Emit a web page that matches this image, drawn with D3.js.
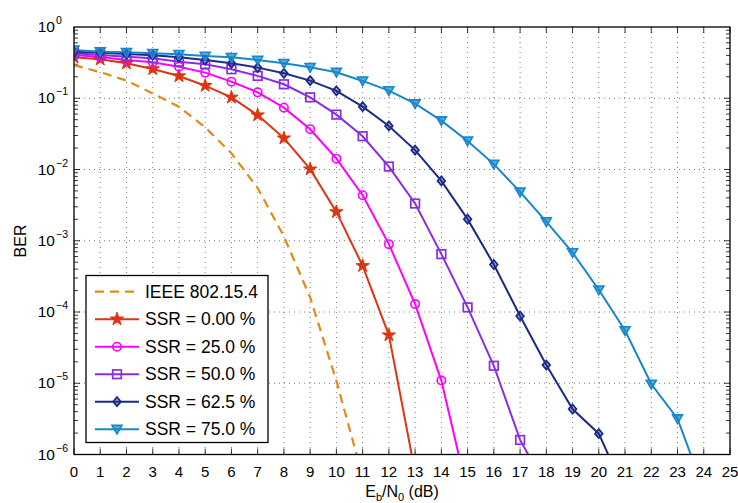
<!DOCTYPE html>
<html><head><meta charset="utf-8">
<script src="https://cdn.jsdelivr.net/npm/d3@7"></script>
<style>body{margin:0;background:#fff}svg{display:block}text{font-family:"Liberation Sans",Arial,sans-serif;fill:#000}</style>
</head><body>
<svg id="c" width="738" height="503"></svg>
<script>
const ebn0 = d3.range(0, 26);
const xTicks = d3.range(0, 26);
const yTickExps = [0, -1, -2, -3, -4, -5, -6];
const seriesNames = ["IEEE 802.15.4", "SSR = 0.00 %", "SSR = 25.0 %", "SSR = 50.0 %", "SSR = 62.5 %", "SSR = 75.0 %"];
const ieee = [0.293, 0.232, 0.177, 0.117, 0.076, 0.039, 0.0169, 0.0055, 0.00115, 1.6e-4, 1.08e-5, 4.9e-7];
const ssr000 = [0.376, 0.352, 0.31, 0.258, 0.205, 0.150, 0.103, 0.058, 0.0275, 0.0101, 0.00254, 4.45e-4, 4.74e-5, 5.6e-7];
const ssr250 = [0.405, 0.380, 0.344, 0.320, 0.277, 0.229, 0.171, 0.121, 0.0737, 0.0367, 0.0142, 0.00436, 8.96e-4, 1.29e-4, 1.09e-5, 2.9e-7];
const ssr500 = [0.428, 0.405, 0.383, 0.364, 0.326, 0.300, 0.255, 0.206, 0.157, 0.103, 0.0589, 0.0293, 0.0110, 0.00333, 6.49e-4, 1.16e-4, 1.76e-5, 1.60e-6, 3.5e-7];
const ssr625 = [0.450, 0.436, 0.418, 0.401, 0.376, 0.344, 0.310, 0.269, 0.224, 0.177, 0.127, 0.0762, 0.0409, 0.0187, 0.00692, 0.00201, 4.64e-4, 8.77e-5, 1.80e-5, 4.35e-6, 1.96e-6, 3.0e-7];
const ssr750 = [0.476, 0.450, 0.442, 0.428, 0.414, 0.392, 0.376, 0.344, 0.310, 0.272, 0.232, 0.175, 0.128, 0.0840, 0.0485, 0.0252, 0.0119, 0.00485, 0.00186, 6.82e-4, 2.05e-4, 5.50e-5, 9.75e-6, 3.18e-6, 3.2e-7];

const colors = ["#e38a12", "#dd3512", "#ff00ff", "#8a2be6", "#1c2a88", "#1787cc"];
const markers = [null, "star", "circle", "square", "diamond", "tri"];
const allSeries = [ieee, ssr000, ssr250, ssr500, ssr625, ssr750];

const L = 74, R = 730, T = 27, B = 454.5;
const x = d3.scaleLinear().domain([0, 25]).range([L, R]);
const y = d3.scaleLog().domain([1e-6, 1]).range([B, T]);
const svg = d3.select("#c");

svg.append("defs").append("clipPath").attr("id", "clip")
  .append("rect").attr("x", L).attr("y", T).attr("width", R - L).attr("height", B - T);

// grid
const g = svg.append("g");
g.selectAll(".gx").data(xTicks.slice(1, -1)).enter().append("line")
  .attr("x1", d => x(d)).attr("x2", d => x(d)).attr("y1", T).attr("y2", B)
  .attr("stroke", "#000").attr("stroke-width", 0.6).attr("stroke-dasharray", "1,4").attr("opacity", 0.85);
g.selectAll(".gy").data(yTickExps.slice(1, -1)).enter().append("line")
  .attr("y1", d => y(Math.pow(10, d))).attr("y2", d => y(Math.pow(10, d))).attr("x1", L).attr("x2", R)
  .attr("stroke", "#000").attr("stroke-width", 0.6).attr("stroke-dasharray", "1,4").attr("opacity", 0.85);

// ticks
const ticks = svg.append("g").attr("stroke", "#000").attr("stroke-width", 0.8);
xTicks.forEach(d => {
  ticks.append("line").attr("x1", x(d)).attr("x2", x(d)).attr("y1", B).attr("y2", B - 6);
  ticks.append("line").attr("x1", x(d)).attr("x2", x(d)).attr("y1", T).attr("y2", T + 6);
});
for (let e = -6; e < 0; e++) {
  for (let m = 1; m <= 9; m++) {
    const v = m * Math.pow(10, e);
    const len = m === 1 ? 6 : 4;
    ticks.append("line").attr("x1", L).attr("x2", L + len).attr("y1", y(v)).attr("y2", y(v));
    ticks.append("line").attr("x1", R).attr("x2", R - len).attr("y1", y(v)).attr("y2", y(v));
  }
}

// series lines
const line = d3.line().x((d, i) => x(ebn0[i])).y(d => y(d));
const plot = svg.append("g").attr("clip-path", "url(#clip)");
allSeries.forEach((s, k) => {
  plot.append("path").datum(s).attr("d", line).attr("fill", "none")
    .attr("stroke", colors[k]).attr("stroke-width", k === 0 ? 2.2 : 2)
    .attr("stroke-dasharray", k === 0 ? "9,6" : null);
});

function drawMarker(sel, type, color, cx, cy) {
  if (type === "star") {
    sel.append("path").attr("d", d3.symbol(d3.symbolStar, 55)()).attr("transform", `translate(${cx},${cy})`)
      .attr("fill", color).attr("stroke", color).attr("stroke-width", 1);
  } else if (type === "circle") {
    sel.append("circle").attr("cx", cx).attr("cy", cy).attr("r", 4.2).attr("fill", "none").attr("stroke", color).attr("stroke-width", 1.6);
  } else if (type === "square") {
    sel.append("rect").attr("x", cx - 4.3).attr("y", cy - 4.3).attr("width", 8.6).attr("height", 8.6).attr("fill", "none").attr("stroke", color).attr("stroke-width", 1.7);
  } else if (type === "diamond") {
    sel.append("path").attr("d", `M${cx},${cy - 4.5}L${cx + 3.8},${cy}L${cx},${cy + 4.5}L${cx - 3.8},${cy}Z`).attr("fill", color).attr("fill-opacity", 0.35).attr("stroke", color).attr("stroke-width", 1.8);
  } else if (type === "tri") {
    sel.append("path").attr("d", `M${cx - 5},${cy - 3.8}L${cx + 5},${cy - 3.8}L${cx},${cy + 4.8}Z`).attr("fill", color).attr("fill-opacity", 0.7).attr("stroke", color).attr("stroke-width", 1.6);
  }
}
allSeries.forEach((s, k) => {
  if (!markers[k]) return;
  s.forEach((v, i) => { if (v >= 1e-6) drawMarker(plot, markers[k], colors[k], x(ebn0[i]), y(v)); });
});

// frame
svg.append("rect").attr("x", L).attr("y", T).attr("width", R - L).attr("height", B - T)
  .attr("fill", "none").attr("stroke", "#000").attr("stroke-width", 1.3);

// x tick labels
svg.append("g").selectAll("text").data(xTicks).enter().append("text")
  .attr("x", d => x(d)).attr("y", 477).attr("text-anchor", "middle").attr("font-size", 15).text(d => d);

// y tick labels
yTickExps.forEach(e => {
  svg.append("text").attr("x", 55).attr("y", y(Math.pow(10, e)) + 5).attr("text-anchor", "end").attr("font-size", 15.5).text("10");
  svg.append("text").attr("x", 56).attr("y", y(Math.pow(10, e)) - 3).attr("font-size", 10.5)
    .text(e === 0 ? "0" : "\u2212" + Math.abs(e));
});

// axis labels
const xl = svg.append("text").attr("x", 402).attr("y", 497).attr("text-anchor", "middle").attr("font-size", 16);
xl.append("tspan").text("E");
xl.append("tspan").attr("font-size", 11).attr("dy", 4).text("b");
xl.append("tspan").attr("dy", -4).text("/N");
xl.append("tspan").attr("font-size", 11).attr("dy", 4).text("0");
xl.append("tspan").attr("dy", -4).text(" (dB)");
svg.append("text").attr("transform", "translate(26,241) rotate(-90)").attr("text-anchor", "middle").attr("font-size", 16).text("BER");

// legend
const lg = svg.append("g");
lg.append("rect").attr("x", 86).attr("y", 275.5).attr("width", 182).attr("height", 167).attr("fill", "#fff").attr("stroke", "#000").attr("stroke-width", 1.3);
const rowY = [291.7, 319.2, 346.7, 374.2, 401.7, 429.2];
seriesNames.forEach((n, k) => {
  lg.append("line").attr("x1", 95).attr("x2", 139).attr("y1", rowY[k]).attr("y2", rowY[k])
    .attr("stroke", colors[k]).attr("stroke-width", k === 0 ? 2.2 : 2).attr("stroke-dasharray", k === 0 ? "9,6" : null);
  if (markers[k]) drawMarker(lg, markers[k], colors[k], 117, rowY[k]);
  lg.append("text").attr("x", 145).attr("y", rowY[k] + 6).attr("font-size", 17.5).text(n);
});
</script>
</body></html>
